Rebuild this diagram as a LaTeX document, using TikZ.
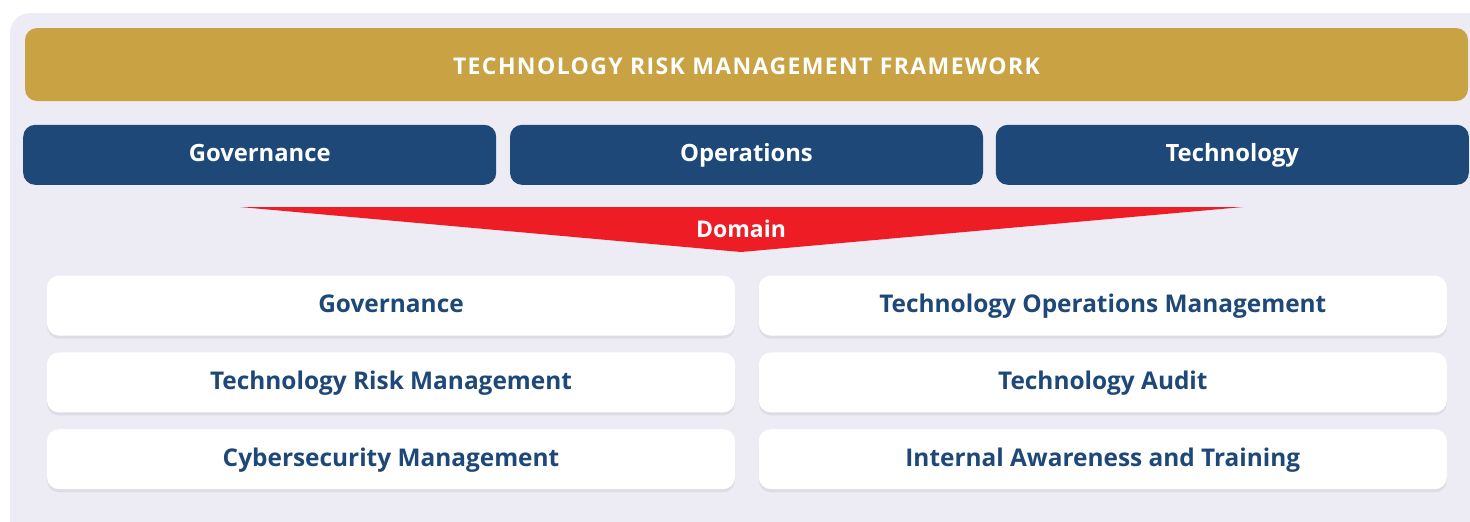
\documentclass[tikz,border=0pt]{standalone}
\usepackage{fontspec}
\setmainfont{Open Sans}
\usetikzlibrary{positioning,shadows}

\definecolor{panelgrey}{HTML}{EDECF5}
\definecolor{framegold}{HTML}{C9A243}
\definecolor{pillarblue}{HTML}{1D4877}
\definecolor{domainred}{HTML}{EE1C25}

\begin{document}
\begin{tikzpicture}[
  font=\bfseries,
  capbox/.style={text height=0.714em, text depth=0pt},
  frame/.style={text height=0.714em+2.5pt, text depth=0pt, fill=framegold,
                rounded corners=6pt, minimum width=721.5pt,
                minimum height=36.5pt, text=white,
                font=\bfseries\fontsize{11.5}{13}\selectfont\addfontfeatures{LetterSpace=6}},
  pillar/.style={capbox, fill=pillarblue, rounded corners=6pt, minimum width=236.5pt,
                 minimum height=30pt, text=white, font=\bfseries\fontsize{11.9}{14}\selectfont},
  area/.style={capbox, fill=white, rounded corners=6pt, minimum width=344pt,
               minimum height=30pt, text=pillarblue,
               font=\bfseries\fontsize{12.2}{14}\selectfont,
               drop shadow={opacity=0.14, shadow xshift=0pt, shadow yshift=-1.5pt}},
]
  \useasboundingbox (0,0) rectangle (735pt,-260.5pt);
  \clip (0,0) rectangle (735pt,-260.5pt);
  \fill[panelgrey, rounded corners=10pt] (5pt,-6.5pt) rectangle (760pt,-280pt);

  % framework and pillars
  \node[frame] (trmf) at (373.25pt,-32.25pt) {TECHNOLOGY RISK MANAGEMENT FRAMEWORK};
  \node[pillar, below=11.5pt of trmf] (ops) {Operations};
  \node[pillar, left=6.5pt of ops] (gov) {Governance};
  \node[pillar, right=6pt of ops] (tech) {Technology};

  % domain arrow
  \coordinate (dl) at (120pt,-103.5pt);
  \coordinate (dr) at (621.5pt,-103.5pt);
  \coordinate (dtip) at (370.5pt,-126pt);
  \fill[domainred] (dl) -- (dr) -- (dtip) -- cycle;
  \node[capbox, text=white, font=\bfseries\fontsize{11.5}{13}\selectfont] (domain)
    at (370.5pt,-115pt) {Domain};

  % domains
  \node[area] (d1) at (195.5pt,-152.8pt) {Governance};
  \node[area, right=11.5pt of d1] (d2) {Technology Operations Management};
  \node[area, below=8pt of d1] (d3) {Technology Risk Management};
  \node[area, right=11.5pt of d3] (d4) {Technology Audit};
  \node[area, below=8pt of d3] (d5) {Cybersecurity Management};
  \node[area, right=11.5pt of d5] (d6) {Internal Awareness and Training};
\end{tikzpicture}
\end{document}
